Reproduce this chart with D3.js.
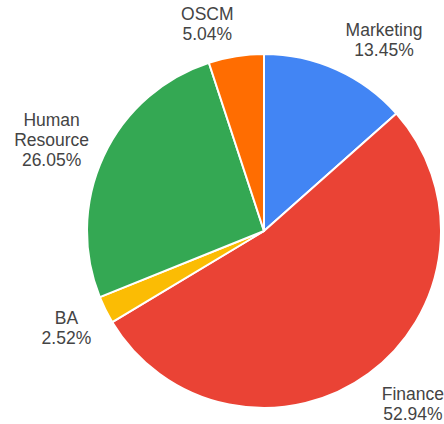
<!DOCTYPE html>
<html>
<head>
<meta charset="utf-8">
<script src="https://cdn.jsdelivr.net/npm/d3@7"></script>
<style>
  body { margin: 0; background: #fff; }
  text { font-family: "Liberation Sans", Arial, sans-serif; }
</style>
</head>
<body>
<div id="chart"></div>
<script>
/* DATA */
const departments = ["Marketing", "Finance", "BA", "Human Resource", "OSCM"];
const shares = [13.45, 52.94, 2.52, 26.05, 5.04];
const sliceColors = ["#4285F4", "#EA4335", "#FBBC04", "#34A853", "#FF6D01"];

/* CONSTANTS */
const width = 444;
const height = 424;
const cx = 264, cy = 231;
const radius = 177;
const labelRadiusRight = 199;
const labelRadiusLeft = 193;
const labelRadiusY = 192;
const lineHeight = 20;

const svg = d3.select("#chart")
    .append("svg")
    .attr("width", width)
    .attr("height", height);

const data = departments.map((d, i) => ({ name: d, value: shares[i], color: sliceColors[i] }));

const pie = d3.pie()
    .sort(null)
    .value(d => d.value);

const arc = d3.arc()
    .innerRadius(0)
    .outerRadius(radius);

const g = svg.append("g")
    .attr("transform", "translate(" + cx + "," + cy + ")");

const arcs = pie(data);

// SLICES
g.selectAll(".slice")
    .data(arcs)
    .join("path")
    .attr("class", "slice")
    .attr("d", arc)
    .attr("fill", d => d.data.color)
    .attr("stroke", "#fff")
    .attr("stroke-width", 2)
    .attr("stroke-linejoin", "round");

// LABELS
arcs.forEach(a => {
    const mid = (a.startAngle + a.endAngle) / 2;
    const sin = Math.sin(mid), cos = Math.cos(mid);
    const px = sin * (sin >= 0 ? labelRadiusRight : labelRadiusLeft);
    const py = -cos * labelRadiusY;

    const lines = a.data.name.length > 10 ? a.data.name.split(" ") : [a.data.name];
    lines.push(a.data.value.toFixed(2) + "%");

    const t = g.append("text")
        .attr("font-size", 17.5)
        .attr("fill", "#444")
        .attr("text-anchor", "middle");

    lines.forEach(l => t.append("tspan").text(l));

    let w = 0;
    t.selectAll("tspan").each(function () { w = Math.max(w, this.getComputedTextLength()); });

    const bx = sin >= 0 ? px + w / 2 : px - w / 2;
    const h = lines.length * lineHeight;
    const centerY = py - cos * h / 2;
    const firstBase = centerY - h / 2 + 18.5;

    t.selectAll("tspan")
        .attr("x", bx)
        .attr("y", (d, i) => firstBase + i * lineHeight);
});
</script>
</body>
</html>
